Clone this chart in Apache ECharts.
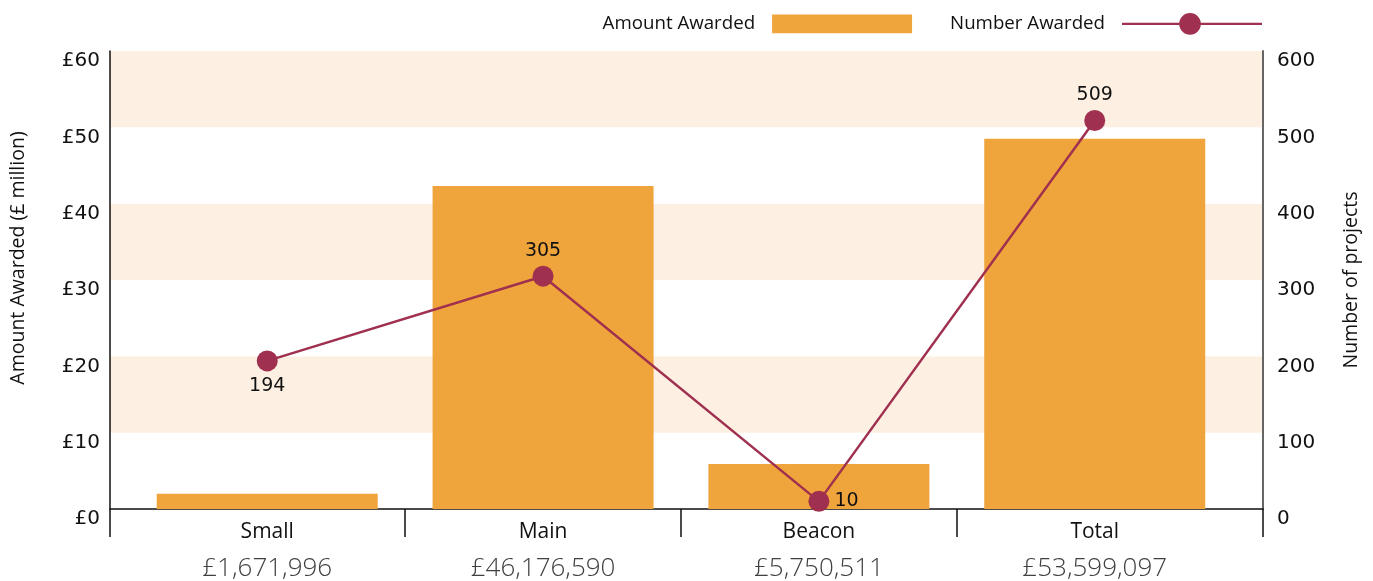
<!DOCTYPE html>
<html>
<head>
	<meta charset="utf-8">
	<title>Amount and number awarded</title>
	<script src="https://cdn.jsdelivr.net/npm/echarts@6/dist/echarts.min.js"></script>
	<style>
	html, body {
		margin: 0;
		height: 100%;
		background: #fff;
	}
	#main {
		width: 1373px;
		height: 581px;
	}
	</style>
</head>
<body>
<div id="main"></div>
<script>
	// data
	var CATEGORIES = ['Small', 'Main', 'Beacon', 'Total'];
	var AMOUNT_LABELS = ['£1,671,996', '£46,176,590', '£5,750,511', '£53,599,097'];
	var AMOUNT_MILLIONS = [2.0, 42.3, 5.9, 48.5];   // bar heights as drawn
	var NUMBER_AWARDED = [194, 305, 10, 509];
	var LEFT_TICKS = ['£0', '£10', '£20', '£30', '£40', '£50', '£60'];

	var ORANGE = '#f0a43c';
	var CRIMSON = '#a0304f';
	var BAND = '#fdf0e3';
	var SANS = 'Open Sans';
	var NUMS = 'DejaVu Sans';

	var labelPos = ['bottom', 'top', 'right', 'top'];

	// legend icons drawn in a 142x22 box (tiny points pin the box size)
	var BAR_ICON = 'path://M0 0 L0.01 0 L0 0.01 Z M0 1.5 L142 1.5 L142 20.5 L0 20.5 Z M142 22 L141.99 22 L142 21.99 Z';
	var LINE_ICON = 'path://M0 0 L0.01 0 L0 0.01 Z M0 9.8 L59 9.8 L59 12.2 L0 12.2 Z M79 9.8 L142 9.8 L142 12.2 L79 12.2 Z ' +
		'M58 11 A11 11 0 1 1 80 11 A11 11 0 1 1 58 11 Z M142 22 L141.99 22 L142 21.99 Z';

	var myChart = echarts.init(document.getElementById('main'));

	var option = {
		animation: false,
		textStyle: { fontFamily: SANS },
		legend: {
			top: 8,
			right: 106,
			align: 'right',
			itemWidth: 140,
			itemHeight: 22,
			itemGap: 38,
			textStyle: { fontSize: 18.7, color: '#111', fontFamily: SANS, padding: [0, 12, 0, 0] },
			data: [
				{ name: 'Amount Awarded', icon: BAR_ICON },
				{ name: 'Number Awarded', icon: LINE_ICON }
			]
		},
		grid: {
			left: 110,
			right: 110,
			top: 51,
			bottom: 72,
			containLabel: false,
			outerBoundsMode: 'none'
		},
		xAxis: {
			type: 'value',
			min: -0.57,
			max: 3.61,
			splitLine: { show: false },
			axisLine: { show: true, onZero: false, lineStyle: { color: '#111', width: 1.5 } },
			axisTick: {
				show: true,
				customValues: [-0.57, 0.5, 1.5, 2.5, 3.61],
				length: 28,
				lineStyle: { color: '#111', width: 1.5 }
			},
			axisLabel: {
				customValues: [0, 1, 2, 3],
				margin: 8,
				formatter: function (v) {
					var i = Math.round(v);
					return '{n|' + CATEGORIES[i] + '}\n{a|' + AMOUNT_LABELS[i] + '}';
				},
				rich: {
					n: { fontSize: 21, color: '#111', lineHeight: 30, fontFamily: SANS },
					a: { fontSize: 26, color: '#404040', lineHeight: 44, fontFamily: SANS, fontWeight: 300 }
				}
			}
		},
		yAxis: [{
			type: 'value',
			min: 0,
			max: 60,
			interval: 10,
			name: 'Amount Awarded (£ million)',
			nameLocation: 'middle',
			nameGap: 82,
			nameRotate: 90,
			nameTextStyle: { fontSize: 19.5, color: '#111', fontFamily: SANS, padding: [0, 0, 0, 44] },
			axisLine: { show: true, onZero: false, lineStyle: { color: '#111', width: 1.5 } },
			axisTick: { show: false },
			splitLine: { show: false },
			splitArea: {
				show: true,
				areaStyle: { color: ['#ffffff', BAND] }
			},
			axisLabel: {
				fontSize: 20,
				fontFamily: NUMS,
				color: '#111',
				margin: 10,
				verticalAlign: 'top',
				formatter: function (v) { return LEFT_TICKS[v / 10]; }
			}
		}, {
			type: 'value',
			min: 0,
			max: 600,
			interval: 100,
			position: 'right',
			name: 'Number of projects',
			nameLocation: 'middle',
			nameGap: 78,
			nameRotate: 90,
			nameTextStyle: { fontSize: 19.5, color: '#111', fontFamily: SANS },
			axisLine: { show: true, onZero: false, lineStyle: { color: '#666', width: 2 } },
			axisTick: { show: false },
			splitLine: { show: false },
			axisLabel: {
				fontSize: 20,
				fontFamily: NUMS,
				color: '#111',
				margin: 14,
				verticalAlign: 'top'
			}
		}],
		series: [{
			name: 'Amount Awarded',
			type: 'bar',
			barWidth: 221,
			itemStyle: { color: ORANGE },
			data: AMOUNT_MILLIONS.map(function (v, i) { return [i, v]; })
		}, {
			name: 'Number Awarded',
			type: 'line',
			yAxisIndex: 1,
			symbol: 'circle',
			symbolSize: 21,
			lineStyle: { color: CRIMSON, width: 2.5 },
			itemStyle: { color: CRIMSON },
			label: {
				show: true,
				fontSize: 19,
				fontFamily: NUMS,
				color: '#111',
				distance: 5,
				formatter: function (p) { return p.value[1]; }
			},
			data: NUMBER_AWARDED.map(function (v, i) {
				return { value: [i, v], label: { position: labelPos[i] } };
			}),
			z: 5
		}]
	};
	myChart.setOption(option);
</script>
</body>
</html>
